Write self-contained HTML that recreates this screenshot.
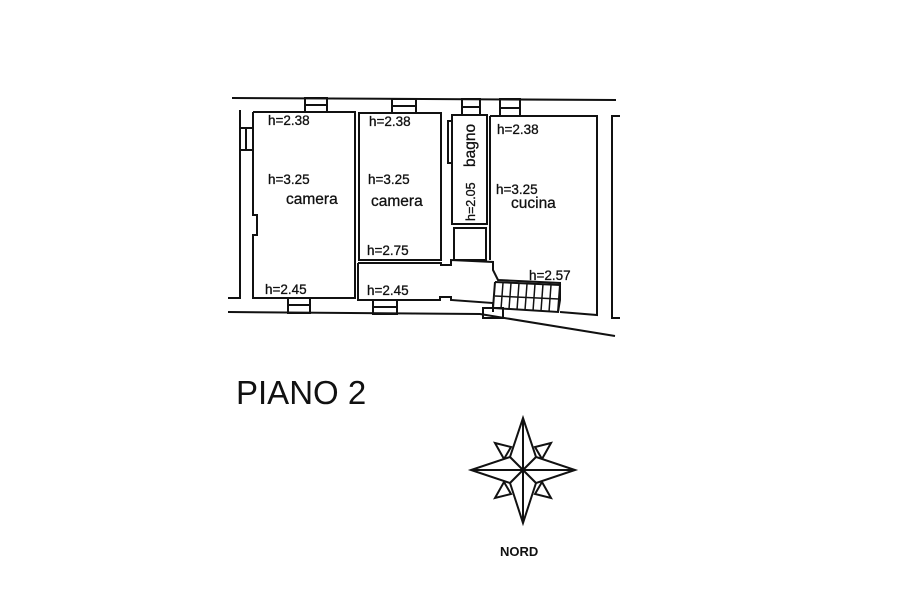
<!DOCTYPE html>
<html><head><meta charset="utf-8"><style>
body{margin:0;background:#fff;}
svg{display:block}
text{font-family:"Liberation Sans",sans-serif;fill:#111}
</style></head><body>
<svg width="900" height="600" viewBox="0 0 900 600" xmlns="http://www.w3.org/2000/svg">
<g fill="none" stroke="#111" stroke-width="2">
<line x1="232" y1="98" x2="616" y2="100"/>
<polyline points="240,110 240,298 228,298"/>
<polyline points="620,116 612,116 612,318 620,318"/>
<polyline points="228,312 480,314 615,336"/>
<polyline points="253,112 355,112 355,298 253,298 253,235 257,235 257,215 253,215 253,112"/>
<rect x="359" y="113" width="82" height="147"/>
<polyline points="358,263 441,263 441,265 451,265 451,260 493,262 493,270 498,280 560,283 560,300 558,312"/>
<polyline points="358,263 358,300 440,300 440,297 451,297 451,300 493,303 493,312"/>
<rect x="452" y="115" width="35" height="109"/>
<rect x="448" y="121" width="4" height="42"/>
<rect x="454" y="228" width="32" height="32"/>
<polyline points="490,116 597,116 597,315 560,312"/>
<line x1="490" y1="116" x2="490" y2="260"/>
<polyline points="495,282 560,285 558,312 493,308 495,282"/>
<g stroke-width="1.5">
<line x1="503" y1="283" x2="501" y2="309"/><line x1="511" y1="283" x2="509" y2="309"/>
<line x1="519" y1="283" x2="517" y2="310"/><line x1="527" y1="284" x2="525" y2="310"/>
<line x1="535" y1="284" x2="533" y2="311"/><line x1="543" y1="284" x2="541" y2="311"/>
<line x1="551" y1="285" x2="549" y2="312"/>
<line x1="495" y1="296" x2="559" y2="299"/>
</g>
<rect x="305" y="98" width="22" height="14"/><line x1="305" y1="105" x2="327" y2="105"/>
<rect x="392" y="99" width="24" height="14"/><line x1="392" y1="106" x2="416" y2="106"/>
<rect x="462" y="99" width="18" height="16"/><line x1="462" y1="107" x2="480" y2="107"/>
<rect x="500" y="99" width="20" height="17"/><line x1="500" y1="108" x2="520" y2="108"/>
<rect x="240" y="128" width="13" height="22"/><line x1="246" y1="128" x2="246" y2="150"/>
<rect x="288" y="298" width="22" height="15"/><line x1="288" y1="305" x2="310" y2="305"/>
<rect x="373" y="300" width="24" height="14"/><line x1="373" y1="307" x2="397" y2="307"/>
<rect x="483" y="308" width="20" height="10"/>
</g>
<g font-size="13.5" stroke="#111" stroke-width="0.3">
<text x="268" y="125">h=2.38</text>
<text x="268" y="184">h=3.25</text>
<text x="265" y="294">h=2.45</text>
<text x="369" y="126">h=2.38</text>
<text x="368" y="184">h=3.25</text>
<text x="367" y="255">h=2.75</text>
<text x="367" y="295">h=2.45</text>
<text x="497" y="134">h=2.38</text>
<text x="496" y="194">h=3.25</text>
<text x="529" y="280">h=2.57</text>
<text transform="translate(475,221) rotate(-90)" font-size="12.5">h=2.05</text>
</g>
<g font-size="15.5" stroke="#111" stroke-width="0.3">
<text x="286" y="204">camera</text>
<text x="371" y="206">camera</text>
<text x="511" y="208">cucina</text>
<text transform="translate(475,167) rotate(-90)">bagno</text>
</g>
<text x="236" y="404" font-size="33">PIANO 2</text>
<g fill="#fff" stroke="#111" stroke-width="2" stroke-linejoin="miter">
<polygon points="495,443 511,447 504,459"/>
<polygon points="551,443 535,447 542,459"/>
<polygon points="495,498 504,482 511,494"/>
<polygon points="551,498 542,482 535,494"/>
<polygon points="523,418 536,457 575,470 536,483 523,523 510,483 471,470 510,457"/>
<line x1="523" y1="418" x2="523" y2="523"/>
<line x1="471" y1="470" x2="575" y2="470"/>
<line x1="510" y1="457" x2="536" y2="483"/>
<line x1="536" y1="457" x2="510" y2="483"/>
</g>
<text x="500" y="556" font-size="13" font-weight="bold">NORD</text>
</svg>
</body></html>
